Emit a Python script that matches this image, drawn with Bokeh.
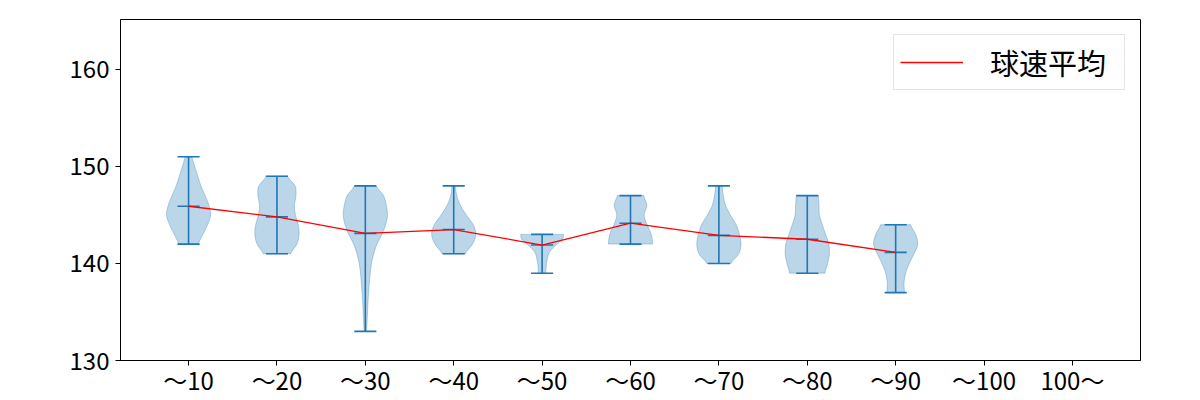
import numpy as np
from bokeh.plotting import figure
from bokeh.models import Range1d, FixedTicker, Legend, LegendItem
from bokeh.embed import file_html
from bokeh.resources import INLINE

# ---- data ----
categories = ["〜10", "〜20", "〜30", "〜40", "〜50", "〜60", "〜70", "〜80", "〜90", "〜100", "100〜"]
speed_min = [142, 141, 133, 141, 139, 142, 140, 139, 137]
speed_max = [151, 149, 148, 148, 143, 147, 148, 147, 144]
speed_mean = [145.9, 144.8, 143.1, 143.5, 141.9, 144.15, 142.9, 142.5, 141.15]

# violin outline: speed levels and relative density (1.0 = widest)
levels_10 = [142, 143, 144, 145, 146, 147, 148, 149, 150, 151]
dens_10 = [0.45, 0.65, 0.86, 1.0, 0.92, 0.75, 0.56, 0.42, 0.28, 0.16]
levels_20 = [141, 142, 143, 144, 145, 146, 147, 148, 149]
dens_20 = [0.62, 0.9, 1.0, 0.96, 0.84, 0.79, 0.86, 0.82, 0.48]
levels_30 = [133, 134, 135, 136, 137, 138, 139, 140, 141, 142, 143, 144, 145, 146, 147, 148]
dens_30 = [0.06, 0.08, 0.1, 0.12, 0.15, 0.18, 0.22, 0.28, 0.38, 0.53, 0.75, 0.92, 1.0, 0.95, 0.82, 0.5]
levels_40 = [141, 142, 143, 144, 145, 146, 147, 148]
dens_40 = [0.53, 0.85, 1.0, 0.88, 0.57, 0.3, 0.14, 0.08]
levels_50 = [139, 140, 141, 141.5, 142, 142.5, 143]
dens_50 = [0.17, 0.2, 0.3, 0.45, 0.68, 0.92, 0.97]
levels_60 = [142, 143, 144, 145, 146, 147]
dens_60 = [1.0, 0.94, 0.75, 0.62, 0.74, 0.6]
levels_70 = [140, 141, 142, 143, 144, 145, 146, 147, 148]
dens_70 = [0.55, 0.9, 1.0, 0.93, 0.78, 0.52, 0.3, 0.2, 0.15]
levels_80 = [139, 140, 141, 142, 143, 144, 145, 146, 147]
dens_80 = [0.8, 0.92, 1.0, 0.97, 0.83, 0.68, 0.55, 0.53, 0.5]
levels_90 = [137, 138, 139, 140, 141, 142, 143, 144]
dens_90 = [0.4, 0.38, 0.45, 0.62, 0.83, 1.0, 0.9, 0.68]

profiles = [
    (levels_10, dens_10), (levels_20, dens_20), (levels_30, dens_30),
    (levels_40, dens_40), (levels_50, dens_50), (levels_60, dens_60),
    (levels_70, dens_70), (levels_80, dens_80), (levels_90, dens_90),
]

VIOLIN_WIDTH = 0.5
BLUE = "#1f77b4"
FONT = "Noto Sans CJK JP"


def smooth(lv, dv, n=10):
    """Catmull-Rom curve through the read profile points (for rendering)."""
    x = np.asarray(lv, float)
    y = np.asarray(dv, float)
    xp = np.concatenate([[2 * x[0] - x[1]], x, [2 * x[-1] - x[-2]]])
    yp = np.concatenate([[y[0]], y, [y[-1]]])
    ox, oy = [], []
    for i in range(1, len(xp) - 2):
        for t in np.linspace(0, 1, n, endpoint=False):
            t2, t3 = t * t, t * t * t
            def cr(p):
                return 0.5 * ((2 * p[i]) + (-p[i - 1] + p[i + 1]) * t
                              + (2 * p[i - 1] - 5 * p[i] + 4 * p[i + 1] - p[i + 2]) * t2
                              + (-p[i - 1] + 3 * p[i] - 3 * p[i + 1] + p[i + 2]) * t3)
            ox.append(cr(xp))
            oy.append(cr(yp))
    ox.append(x[-1])
    oy.append(y[-1])
    return np.array(ox), np.clip(np.array(oy), 0, None)


positions = list(range(1, len(categories) + 1))

p = figure(width=1200, height=400, output_backend="svg", toolbar_location=None,
           x_range=Range1d(0.23, 11.77), y_range=Range1d(130, 165.15),
           min_border_left=120, min_border_right=60, min_border_top=19, min_border_bottom=40)
p.background_fill_color = "white"
p.border_fill_color = "white"
p.outline_line_color = "black"
p.outline_line_width = 1
p.grid.visible = False

# violin bodies
xs_list, ys_list = [], []
for i, (lv, dv) in enumerate(profiles):
    pos = positions[i]
    yy, ww = smooth(lv, dv)
    half = ww * VIOLIN_WIDTH / 2
    xs_list.append(list(pos + half) + list(pos - half[::-1]))
    ys_list.append(list(yy) + list(yy[::-1]))
p.patches(xs_list, ys_list, fill_color=BLUE, fill_alpha=0.3, line_color=BLUE, line_alpha=0.3, line_width=1)

# vertical bars and caps
n = len(speed_min)
pos9 = positions[:n]
p.segment(x0=pos9, y0=speed_min, x1=pos9, y1=speed_max, line_color=BLUE, line_width=1.6)
cap = VIOLIN_WIDTH / 4
for vals in (speed_min, speed_max, speed_mean):
    p.segment(x0=[x - cap for x in pos9], y0=vals, x1=[x + cap for x in pos9], y1=vals,
              line_color=BLUE, line_width=1.6)

# mean line
mean_r = p.line(pos9, speed_mean, line_color="red", line_width=1.3)

legend = Legend(items=[LegendItem(label="球速平均", renderers=[mean_r])], location="top_right")
legend.margin = 15
legend.padding = 6
legend.glyph_width = 63
legend.glyph_height = 30
legend.label_standoff = 27
legend.label_width = 128
legend.label_text_font = FONT
legend.label_text_font_size = "29px"
legend.label_text_color = "black"
legend.border_line_color = "#cccccc"
legend.border_line_width = 1
legend.background_fill_alpha = 0.8
p.add_layout(legend)

# axes
p.xaxis.ticker = FixedTicker(ticks=positions)
p.xaxis.major_label_overrides = {pos: lab for pos, lab in zip(positions, categories)}
p.yaxis.ticker = FixedTicker(ticks=[130, 140, 150, 160])
for ax in (p.xaxis, p.yaxis):
    ax.minor_tick_line_color = None
    ax.major_tick_in = 0
    ax.major_tick_out = 5
    ax.major_tick_line_color = "black"
    ax.axis_line_color = "black"
    ax.major_label_text_font = FONT
    ax.major_label_text_font_size = "24px"
    ax.major_label_text_color = "black"
p.xaxis.major_label_standoff = -4
p.yaxis.major_label_standoff = 6

open("out.html", "w").write(file_html(p, INLINE))
